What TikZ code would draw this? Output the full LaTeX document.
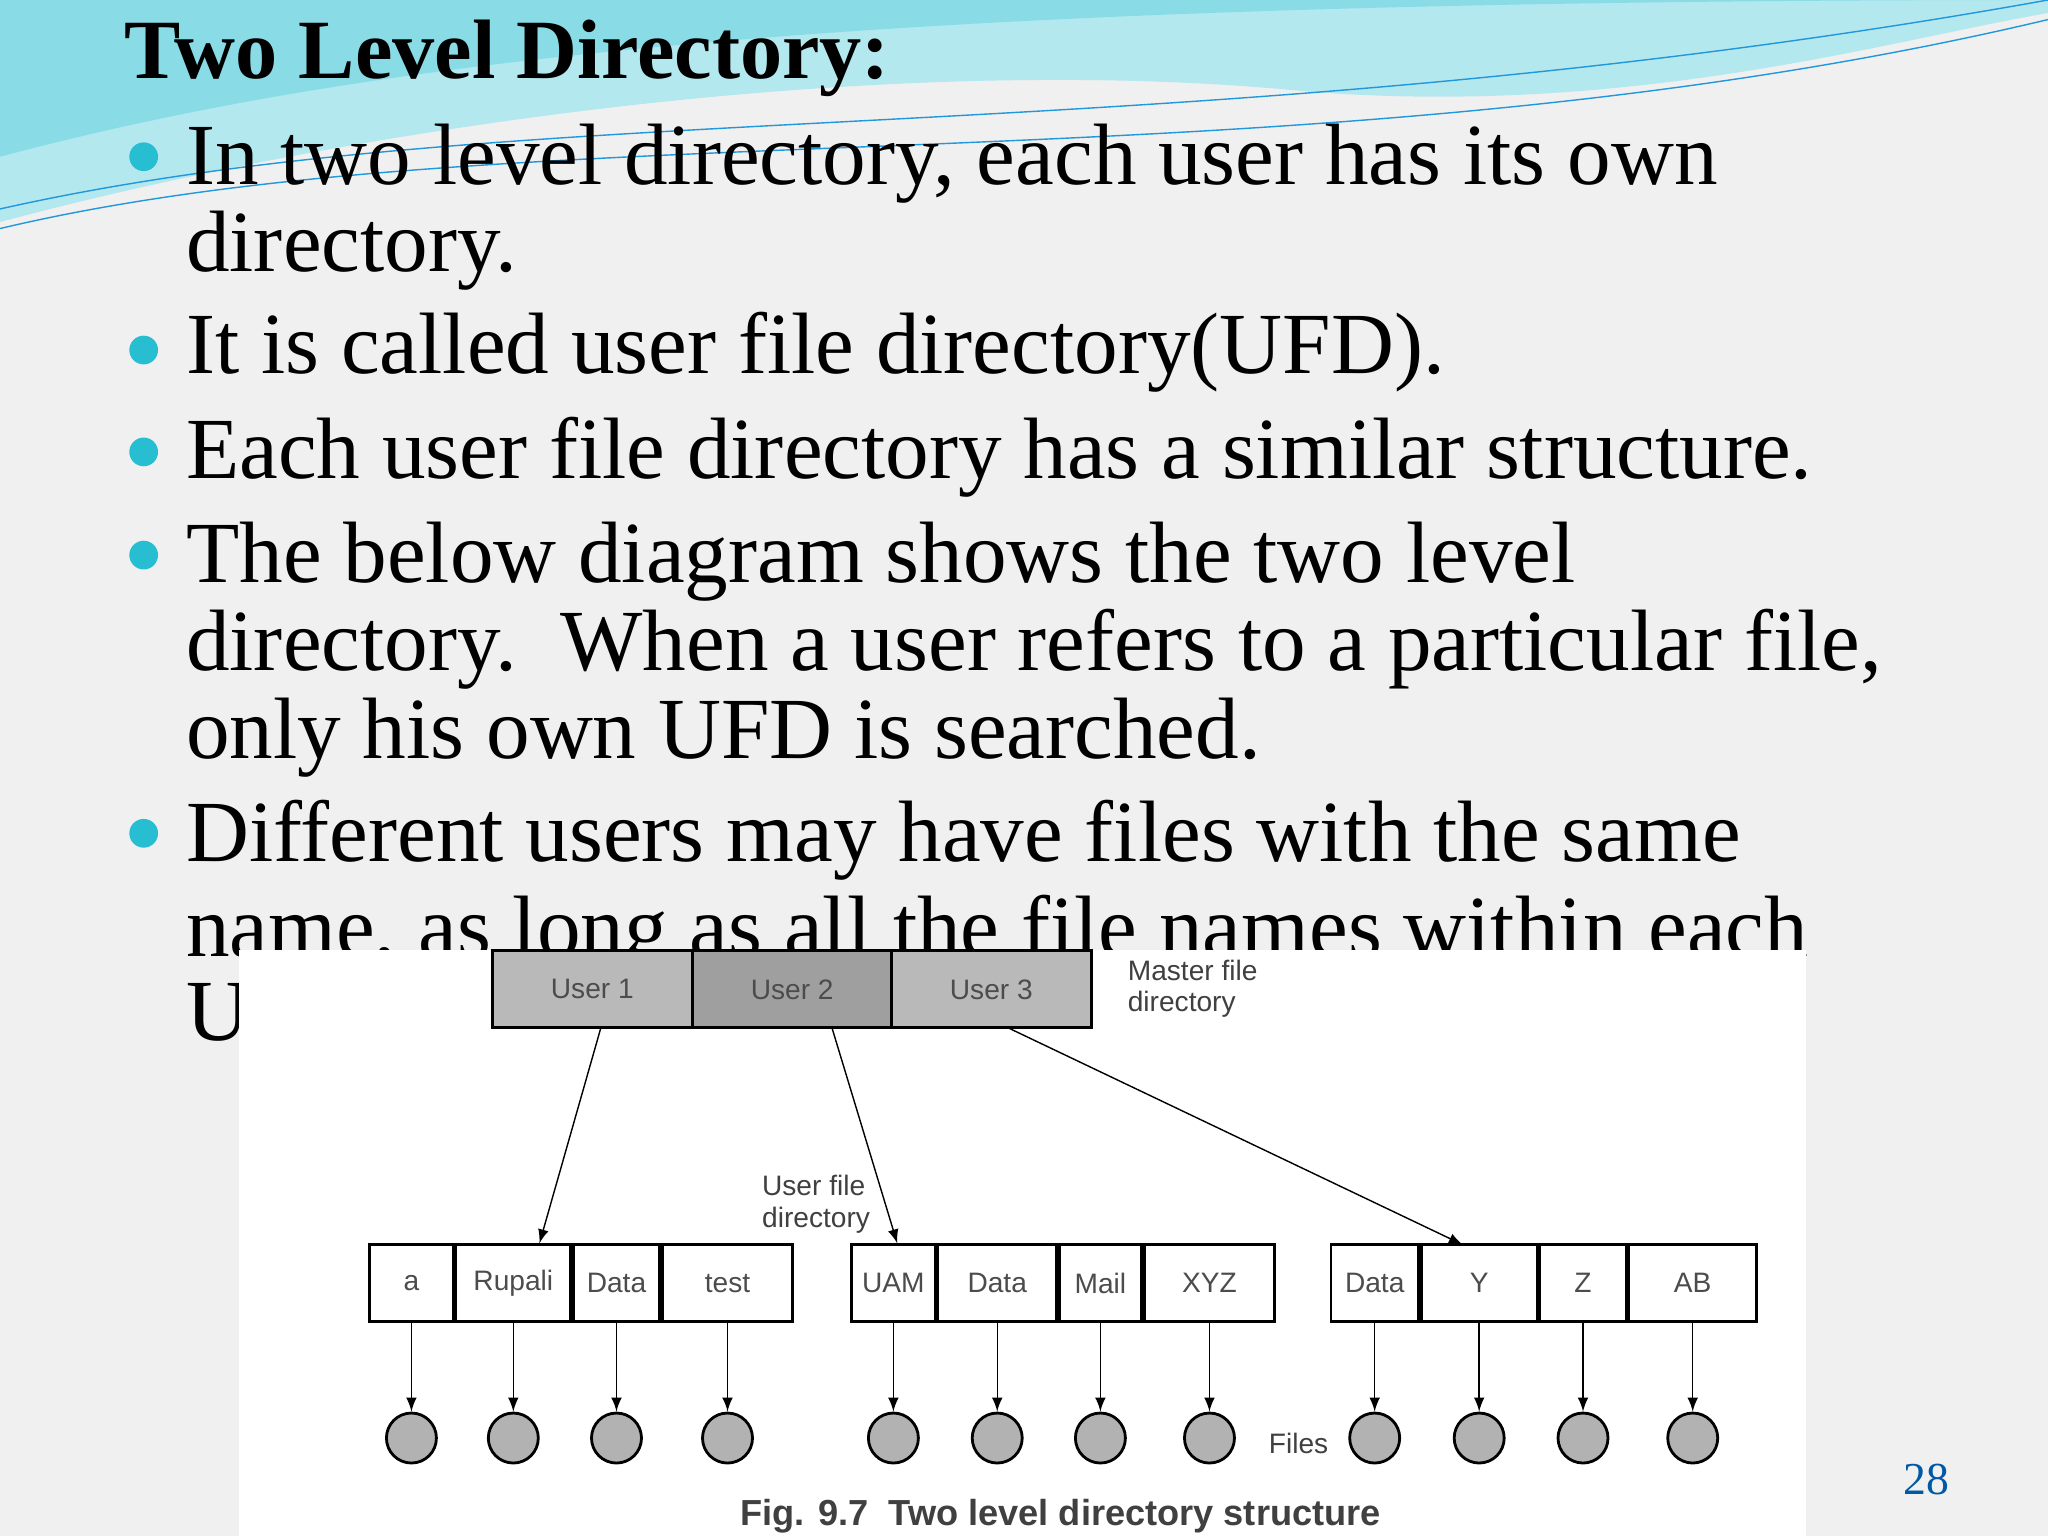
\documentclass[tikz,border=0pt]{standalone}
\usepackage{fontspec}
\setmainfont{Liberation Serif}
\newfontfamily\dfont{Liberation Sans}
\definecolor{teal1}{RGB}{40,190,210}
\definecolor{bg}{RGB}{240,240,240}
\begin{document}
\begin{tikzpicture}[x=0.013061cm,y=-0.013061cm,
 body/.style={anchor=west,font=\fontsize{24.8}{24.8}\selectfont,inner sep=0},
 cell/.style={draw,thick,minimum height=0.77cm,inner sep=0,font=\dfont\fontsize{8}{8}\selectfont,text=black!70},
 mcell/.style={cell,fill=gray!55,minimum height=0.77cm},
 file/.style={circle,draw,thick,fill=gray!60,minimum size=0.5cm,inner sep=0},
 lab/.style={anchor=west,align=left,font=\dfont\fontsize{8}{9}\selectfont,text=black!75},
 arr/.style={-latex,thin}]
\fill[bg] (0,0) rectangle (1568,1176);
\useasboundingbox (0,0) rectangle (1568,1176);
% top wave
\fill[teal1!35] (0,0) -- (0,170) .. controls (300,90) and (700,40) .. (1000,70) .. controls (1250,90) and (1450,30) .. (1568,10) -- (1568,0) -- cycle;
\fill[teal1!55] (0,0) -- (0,120) .. controls (300,40) and (700,0) .. (1568,0) -- cycle;
\draw[teal1!80!blue] (0,160) .. controls (400,70) and (900,120) .. (1568,0);
\draw[teal1!80!blue] (0,175) .. controls (400,80) and (1000,150) .. (1568,15);
\node[anchor=west,inner sep=0,font=\bfseries\fontsize{24}{24}\selectfont] (title) at (95,45) {Two Level Directory:};
\foreach \y in {120,268,346,425,638} \fill[teal1] (110,\y) circle (11);
\node[body] (l1) at (142,125) {In two level directory, each user has its own};
\node[body] (l2) at (142,192) {directory.};
\node[body] (l3) at (142,270) {It is called user file directory(UFD).};
\node[body] (l4) at (142,350) {Each user file directory has a similar structure.};
\node[body] (l5) at (142,430) {The below diagram shows the two level};
\node[body] (l6) at (142,497) {directory.\ \ When a user refers to a particular file,};
\node[body] (l7) at (142,565) {only his own UFD is searched.};
\node[body] (l8) at (142,643) {Different users may have files with the same};
\node[body] (l9) at (142,716) {name, as long as all the file names within each};
\node[body] (l10) at (142,782) {UFD are unique.};
% figure
\fill[white] (183,727) rectangle (1383,1176);
\node[mcell,minimum width=2cm] (u1) at (453.5,757.5) {User 1};
\node[mcell,fill=gray!75,minimum width=2cm] (u2) at (606.5,757.5) {User 2};
\node[mcell,minimum width=2cm] (u3) at (759,757.5) {User 3};
\node[lab] (mfd) at (854,757) {Master file\\directory};
\foreach \n/\x/\w/\t in {a/315/66/a,b/393/90/Rupali,c/472/68/Data,d/557/102/test,
 e/684/66/UAM,f/763.5/93/Data,g/842.5/65/Mail,h/926/102/XYZ,
 i/1052.5/69/Data,j/1132.5/91/Y,k/1212/68/Z,l/1296/100/AB}{
 \node[cell,minimum width=\w*0.013061cm-0.8pt] (c\n) at (\x,982.5) {\t};
 \node[file] (f\n) at (\x,1101) {};
 \draw[arr] (c\n.south) -- (f\n.north);
}
\coordinate (s1) at (460,787); \coordinate (s2) at (637,787); \coordinate (s3) at (772,787);
\coordinate (t1) at (413,952); \coordinate (t2) at (687,952); \coordinate (t3) at (1120,953);
\draw[arr] (s1) -- (t1); \draw[arr] (s2) -- (t2); \draw[arr] (s3) -- (t3);
\node[lab] (ufd) at (574,922) {User file\\directory};
\node[lab] (files) at (962,1105) {Files};
\node[font=\dfont\bfseries\fontsize{10.3}{10.3}\selectfont,text=black!75] (cap) at (812,1161) {Fig. 9.7\ \ Two level directory structure};
\node[font=\fontsize{13}{13}\selectfont,text=teal!70!blue] (pg) at (1475,1133) {28};
\end{tikzpicture}
\end{document}
